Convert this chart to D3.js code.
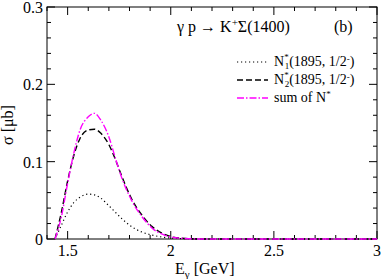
<!DOCTYPE html>
<html>
<head>
<meta charset="utf-8">
<script src="https://cdn.jsdelivr.net/npm/d3@7"></script>
<style>
  body { margin: 0; background: #fff; }
  svg text { font-family: "Liberation Serif", "DejaVu Serif", serif !important; }
</style>
</head>
<body>
<div id="chart"></div>
<script>
// photon energy grid (GeV) shared by all three curves
var energy = [1.439, 1.47, 1.50, 1.53, 1.56, 1.60, 1.63, 1.66, 1.70, 1.73, 1.76, 1.81, 1.86, 1.91, 1.97, 2.05, 2.15, 2.5, 3.0];
// N*1(1895,1/2-) contribution (dotted)
var sigmaN1 = [0, 0.018, 0.035, 0.047, 0.054, 0.058, 0.057, 0.053, 0.043, 0.035, 0.027, 0.016, 0.009, 0.005, 0.002, 0.0005, 0, 0, 0];
// N*2(1895,1/2-) contribution (dashed)
var sigmaN2 = [0, 0.035, 0.075, 0.108, 0.130, 0.141, 0.142, 0.137, 0.122, 0.104, 0.083, 0.052, 0.031, 0.016, 0.006, 0.001, 0, 0, 0];
// sum of N* (dash-dot magenta)
var sigmaSum = [0, 0.029, 0.072, 0.111, 0.141, 0.158, 0.1625, 0.154, 0.132, 0.106, 0.081, 0.050, 0.029, 0.014, 0.005, 0.001, 0, 0, 0];

var xTicks = [1.5, 2, 2.5, 3];
var yTicks = [0, 0.1, 0.2, 0.3];

var svgWidth = 382, svgHeight = 279;
var margin = { top: 7, right: 5, bottom: 40, left: 47 };
var width = svgWidth - margin.left - margin.right;
var height = svgHeight - margin.top - margin.bottom;

var svg = d3.select("#chart").append("svg")
    .attr("width", svgWidth)
    .attr("height", svgHeight);

var g = svg.append("g")
    .attr("transform", `translate(${margin.left},${margin.top})`);

var x = d3.scaleLinear().domain([1.4, 3.0]).range([0, width]);
var y = d3.scaleLinear().domain([0, 0.3]).range([height, 0]);

// frame
g.append("rect")
    .attr("width", width).attr("height", height)
    .attr("fill", "none").attr("stroke", "#000").attr("stroke-width", 1);

// ticks on all sides, pointing inward
var xMinor = d3.range(1.4, 3.001, 0.1).filter(v => xTicks.every(t => Math.abs(t - v) > 1e-6));
var yMinor = d3.range(0, 0.3001, 0.02).filter(v => yTicks.every(t => Math.abs(t - v) > 1e-6));

function xTickLines(vals, len) {
  vals.forEach(function(v) {
    g.append("line").attr("x1", x(v)).attr("x2", x(v)).attr("y1", height).attr("y2", height - len).attr("stroke", "#000");
    g.append("line").attr("x1", x(v)).attr("x2", x(v)).attr("y1", 0).attr("y2", len).attr("stroke", "#000");
  });
}
function yTickLines(vals, len) {
  vals.forEach(function(v) {
    g.append("line").attr("y1", y(v)).attr("y2", y(v)).attr("x1", 0).attr("x2", len).attr("stroke", "#000");
    g.append("line").attr("y1", y(v)).attr("y2", y(v)).attr("x1", width).attr("x2", width - len).attr("stroke", "#000");
  });
}
xTickLines(xTicks, 8);
xTickLines(xMinor, 4);
yTickLines(yTicks, 8);
yTickLines(yMinor, 4);

// tick labels
g.selectAll(".xlab").data(xTicks).enter().append("text")
    .attr("x", d => x(d)).attr("y", height + 17)
    .attr("text-anchor", "middle").attr("font-size", "16px")
    .text(d => d);

g.selectAll(".ylab").data(yTicks).enter().append("text")
    .attr("x", -4).attr("y", d => y(d) + 6)
    .attr("text-anchor", "end").attr("font-size", "16px")
    .text(d => d);

// axis titles
var xt = g.append("text")
    .attr("x", 128).attr("y", height + 35)
    .attr("font-size", "16px");
xt.append("tspan").text("E");
xt.append("tspan").attr("font-size", "11px").attr("dy", 4).text("γ");
xt.append("tspan").attr("dy", -4).text(" [GeV]");

g.append("text")
    .attr("transform", `translate(-34,${y(0.15) + 2}) rotate(-90)`)
    .attr("text-anchor", "middle").attr("font-size", "16px")
    .text("σ [μb]");

// curves
var line = d3.line()
    .x(d => x(d[0]))
    .y(d => y(d[1]))
    .curve(d3.curveMonotoneX);

var series = [
  { vals: sigmaN1, color: "#000", dash: "1.2,2.8", width: 1.2 },
  { vals: sigmaN2, color: "#000", dash: "6,3", width: 1.4 },
  { vals: sigmaSum, color: "#ff00ff", dash: "7,2,1.5,2", width: 1.4 }
];

g.append("g").selectAll("path")
    .data(series).enter().append("path")
    .attr("d", s => line(energy.map((e, i) => [e, s.vals[i]])))
    .attr("fill", "none")
    .attr("stroke", s => s.color)
    .attr("stroke-width", s => s.width)
    .attr("stroke-dasharray", s => s.dash);

// reaction label
var title = g.append("text").attr("x", 130).attr("y", 25).attr("font-size", "16px");
title.append("tspan").text("γ p → K");
title.append("tspan").attr("font-size", "11px").attr("dy", -6).text("+");
title.append("tspan").attr("dy", 6).text("Σ(1400)");

g.append("text").attr("x", 287).attr("y", 25).attr("font-size", "16px").text("(b)");

// legend
var legend = g.append("g").attr("transform", "translate(190,55)");
var legendRows = [
  { s: series[0], sub: "1", label: "(1895, 1/2" },
  { s: series[1], sub: "2", label: "(1895, 1/2" },
  { s: series[2], sub: null, label: "sum of N" }
];
legendRows.forEach(function(r, i) {
  var ly = i * 18;
  legend.append("line")
      .attr("x1", 0).attr("x2", 31).attr("y1", ly).attr("y2", ly)
      .attr("stroke", r.s.color).attr("stroke-width", r.s.width)
      .attr("stroke-dasharray", r.s.dash);
  var t = legend.append("text").attr("x", 37).attr("y", ly + 4).attr("font-size", "14px");
  if (r.sub) {
    t.append("tspan").text("N");
    t.append("tspan").attr("font-size", "9px").attr("dy", -6).text("*");
    t.append("tspan").attr("font-size", "9px").attr("dx", -4).attr("dy", 9).text(r.sub);
    t.append("tspan").attr("dy", -3).text(r.label);
    t.append("tspan").attr("font-size", "9px").attr("dy", -4).text("-");
    t.append("tspan").attr("dy", 4).text(")");
  } else {
    t.append("tspan").text(r.label);
    t.append("tspan").attr("font-size", "9px").attr("dy", -5).text("*");
  }
});
</script>
</body>
</html>
